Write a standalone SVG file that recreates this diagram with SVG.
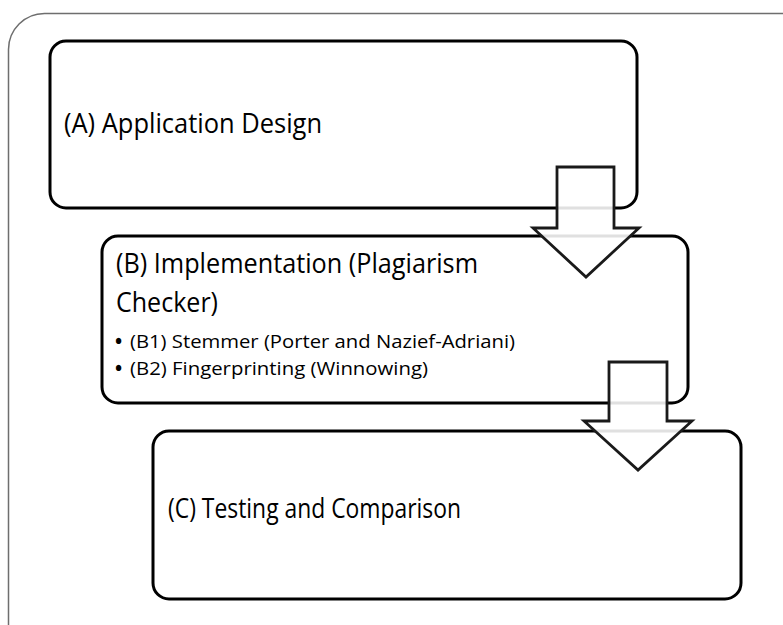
<svg xmlns="http://www.w3.org/2000/svg" width="783" height="625" viewBox="0 0 783 625">
<style>
.frame{fill:#fff;stroke:#6e6e6e;stroke-width:1.5}
.box{fill:#fff;stroke:#000;stroke-width:3}
.arrow{fill:#fff;fill-opacity:0.88;stroke:#1a1a1a;stroke-width:2.8;stroke-linejoin:miter}
.t{font-family:"Open Sans","Liberation Sans",sans-serif;fill:#000}
.big{font-size:27px}
.small{font-size:19px}
.bul{font-size:19px;font-weight:bold}
</style>
<rect width="783" height="625" fill="#fff"/>
<rect class="frame" x="8.5" y="13.5" width="815" height="650" rx="36" ry="36"/>
<g id="nodeA">
<rect class="box" x="50" y="41" width="587" height="167" rx="16" ry="16"/>
<text class="t big" x="64" y="133" textLength="258" lengthAdjust="spacingAndGlyphs">(A) Application Design</text>
</g>
<g id="nodeB">
<rect class="box" x="102" y="236" width="586" height="167" rx="16" ry="16"/>
<text class="t big" x="116" y="273" textLength="362" lengthAdjust="spacingAndGlyphs">(B) Implementation (Plagiarism</text>
<text class="t big" x="116" y="312" textLength="102" lengthAdjust="spacingAndGlyphs">Checker)</text>
<text class="t bul" x="115" y="348">•</text>
<text class="t small" x="130" y="348" textLength="385" lengthAdjust="spacingAndGlyphs">(B1) Stemmer (Porter and Nazief-Adriani)</text>
<text class="t bul" x="115" y="375">•</text>
<text class="t small" x="130" y="375" textLength="298" lengthAdjust="spacingAndGlyphs">(B2) Fingerprinting (Winnowing)</text>
</g>
<g id="nodeC">
<rect class="box" x="153" y="431" width="588" height="168" rx="16" ry="16"/>
<text class="t big" x="168" y="518" textLength="293" lengthAdjust="spacingAndGlyphs">(C) Testing and Comparison</text>
</g>
<g id="connectors">
<polygon class="arrow" points="557,167 614,167 614,228 639,228 586,277 533,228 557,228"/>
<polygon class="arrow" points="609,362 667,362 667,421 692,421 638,470 584,421 609,421"/>
</g>
</svg>
